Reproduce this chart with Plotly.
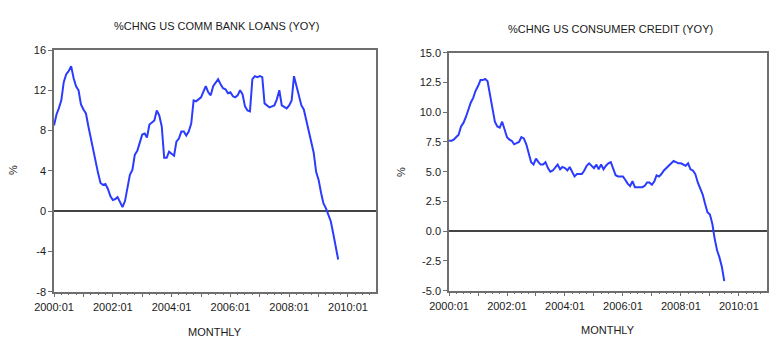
import pandas as pd
import plotly.graph_objects as go
from plotly.subplots import make_subplots

# ---- data (monthly, starting 2000:01) ----
loans_start = "2000-01-01"
loans_yoy = [
    8.5, 9.6, 10.2, 11.0, 12.8, 13.6, 13.9, 14.4, 13.2, 12.4, 12.0, 10.6,
    10.1, 9.7, 8.5, 7.3, 5.9, 4.6, 3.8, 2.8, 2.6, 2.7, 2.2, 1.5,
    1.1, 1.2, 1.4, 0.9, 0.4, 1.0, 2.2, 3.6, 4.1, 5.6, 6.0, 6.8,
    7.6, 7.7, 7.3, 8.6, 8.8, 9.0, 10.0, 9.5, 8.4, 5.3, 5.3, 5.9,
    5.7, 5.5, 6.9, 7.2, 7.9, 7.9, 7.5, 7.9, 8.7, 11.0, 10.9, 11.1,
    11.3, 11.9, 12.4, 11.8, 11.5, 12.4, 12.8, 13.1, 12.6, 12.2, 12.1, 11.7,
    11.8, 11.4, 11.3, 11.5, 12.0, 11.6, 10.4, 10.0, 9.9, 13.1, 13.4, 13.3,
    13.4, 13.3, 10.7, 10.5, 10.3, 10.4, 10.5, 11.1, 12.0, 10.5, 10.3, 10.2,
    10.5, 11.0, 13.4, 12.4, 11.3, 10.5, 10.1, 9.0, 7.8, 6.7, 5.8, 3.9,
    3.1, 1.8, 0.8, 0.3, -0.3, -1.0, -2.2, -3.5, -4.8,
]

credit_start = "2000-01-01"
credit_yoy = [
    7.6, 7.6, 7.7, 7.9, 8.1, 8.8, 9.1, 9.6, 10.3, 10.8, 11.2, 11.8,
    12.2, 12.7, 12.7, 12.8, 12.6, 11.5, 10.3, 9.2, 8.8, 8.7, 9.2, 8.5,
    7.9, 7.7, 7.6, 7.3, 7.4, 7.5, 7.9, 7.8, 7.3, 6.6, 5.8, 5.6,
    6.1, 5.8, 5.6, 5.6, 5.8, 5.3, 5.0, 5.1, 5.4, 5.6, 5.2, 5.4,
    5.3, 5.1, 5.4, 5.0, 4.6, 4.8, 4.8, 4.8, 5.1, 5.5, 5.7, 5.5,
    5.3, 5.6, 5.2, 5.6, 5.2, 5.5, 5.7, 5.8, 5.2, 4.7, 4.6, 4.6,
    4.6, 4.3, 4.0, 3.8, 4.2, 3.7, 3.7, 3.7, 3.7, 3.8, 4.1, 4.1,
    3.9, 4.2, 4.7, 4.6, 4.8, 5.1, 5.3, 5.5, 5.7, 5.9, 5.8, 5.7,
    5.7, 5.6, 5.5, 5.7, 5.2, 5.1, 4.8, 4.1, 3.6, 3.1, 2.3, 1.6,
    1.4, 0.6, -0.6, -1.6, -2.2, -3.0, -4.2,
]

titles = ["%CHNG US COMM BANK LOANS (YOY)", "%CHNG US CONSUMER CREDIT (YOY)"]
x_title = "MONTHLY"
y_title = "%"
x_tick_dates = ["2000-01-01", "2001-01-01", "2002-01-01", "2003-01-01", "2004-01-01",
                "2005-01-01", "2006-01-01", "2007-01-01", "2008-01-01", "2009-01-01",
                "2010-01-01"]
x_tick_labels = ["2000:01", "", "2002:01", "", "2004:01", "", "2006:01", "",
                 "2008:01", "", "2010:01"]
loans_yticks = [16, 12, 8, 4, 0, -4, -8]
credit_yticks = [15.0, 12.5, 10.0, 7.5, 5.0, 2.5, 0.0, -2.5, -5.0]

loans_dates = pd.date_range(loans_start, periods=len(loans_yoy), freq="MS")
credit_dates = pd.date_range(credit_start, periods=len(credit_yoy), freq="MS")

W, H = 780, 358
OFF = 8  # page body margin offset
FONT = "Liberation Sans, Arial, sans-serif"
TXT = "#1a1a1a"
AXC = "#6e6e6e"
LINE = "#2b3cff"

fig = make_subplots(rows=1, cols=2)
fig.add_trace(go.Scatter(x=loans_dates, y=loans_yoy, mode="lines",
                         line=dict(color=LINE, width=2), showlegend=False), 1, 1)
fig.add_trace(go.Scatter(x=credit_dates, y=credit_yoy, mode="lines",
                         line=dict(color=LINE, width=2), showlegend=False), 1, 2)

def px_x(a, b):
    return [(a - OFF) / W, (b - OFF) / W]

def px_y(top, bottom):
    return [(H - bottom + OFF) / H, (H - top + OFF) / H]

xcommon = dict(
    type="date", range=["2000-01-01", "2010-12-15"], automargin=False,
    tickmode="array", tickvals=x_tick_dates, ticktext=x_tick_labels,
    ticks="outside", ticklen=4, tickcolor=AXC, tickwidth=1,
    minor=dict(dtick="M3", tick0="2000-01-01", ticks="outside", ticklen=2,
               tickcolor=AXC, tickwidth=1),
    showgrid=False, zeroline=False,
    showline=True, linecolor=AXC, linewidth=1.5, mirror=True,
    tickfont=dict(family=FONT, size=11, color=TXT),
)
ycommon = dict(
    ticks="outside", ticklen=4, tickcolor=AXC, tickwidth=1, automargin=False,
    showgrid=False, zeroline=True, zerolinecolor="#444444", zerolinewidth=1.5,
    showline=True, linecolor=AXC, linewidth=1.5, mirror=True,
    tickfont=dict(family=FONT, size=11, color=TXT),
)

fig.update_layout(
    width=W, height=H,
    margin=dict(l=0, r=0, t=0, b=0),
    paper_bgcolor="white", plot_bgcolor="white",
    font=dict(family=FONT, size=11, color=TXT),
    xaxis=dict(domain=px_x(54, 376), **xcommon),
    xaxis2=dict(domain=px_x(449, 766.5), **xcommon),
    yaxis=dict(domain=px_y(50, 291.7), range=[-8, 16],
               tickvals=loans_yticks, ticktext=[str(v) for v in loans_yticks],
               **ycommon),
    yaxis2=dict(domain=px_y(52.7, 290.7), range=[-5, 15],
                tickvals=credit_yticks, ticktext=[f"{v:.1f}" for v in credit_yticks],
                **ycommon),
)

specs = [
    (titles[0], 216, 26, 0), (titles[1], 610, 29, 0),
    (x_title, 215, 332, 0), (x_title, 608, 330, 0),
    (y_title, 13, 170, -90), (y_title, 401, 172, -90),
]
ann = []
for text, x, y, rot in specs:
    ann.append(dict(text=text, x=(x - OFF) / W, y=(H - y + OFF) / H,
                    xref="paper", yref="paper",
                    xanchor="center", yanchor="middle", showarrow=False,
                    textangle=rot, font=dict(family=FONT, size=11, color=TXT)))
fig.update_layout(annotations=ann)

fig.write_html("out.html")
